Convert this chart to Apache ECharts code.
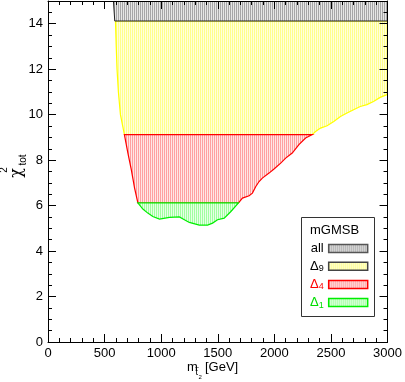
<!DOCTYPE html>
<html>
<head>
<meta charset="utf-8">
<script src="https://cdn.jsdelivr.net/npm/echarts@6/dist/echarts.min.js"></script>
<style>
  html, body { margin: 0; padding: 0; background: #fff; }
  #chart { width: 405px; height: 382px; }
</style>
</head>
<body>
<div id="chart"></div>
<script>
// region outlines [m_stop (GeV), chi2_tot]
var allRegion = [[578, 15], [3000, 15], [3000, 14.12], [590, 14.12]]
var delta9Region = [
  [596, 14.12], [603, 13], [610, 12], [622, 11], [640, 10], [675, 9.12],
  [2334, 9.12], [2364, 9.26], [2408, 9.41], [2466, 9.51], [2525, 9.70], [2584, 9.92],
  [2642, 10.07], [2700, 10.22], [2759, 10.36], [2818, 10.44], [2876, 10.58],
  [2935, 10.76], [2994, 10.88], [3000, 10.9], [3000, 14.12]
]
var delta4Region = [
  [675, 9.12], [706, 8.31], [736, 7.58], [765, 6.77], [794, 6.12],
  [1683, 6.12], [1718, 6.33], [1777, 6.43], [1806, 6.55], [1836, 6.84], [1865, 7.06],
  [1894, 7.21], [1953, 7.43], [1997, 7.61], [2056, 7.87], [2100, 8.09], [2158, 8.31],
  [2217, 8.68], [2276, 8.97], [2334, 9.12]
]
var delta1Region = [
  [794, 6.12], [838, 5.85], [882, 5.67], [926, 5.52], [985, 5.41], [1073, 5.48],
  [1161, 5.50], [1205, 5.38], [1249, 5.26], [1337, 5.14], [1410, 5.14], [1454, 5.23],
  [1498, 5.38], [1557, 5.45], [1616, 5.74], [1683, 6.12]
]

var xTicks = [0, 500, 1000, 1500, 2000, 2500, 3000]
var yTicks = [0, 2, 4, 6, 8, 10, 12, 14]

// fine vertical hatch pattern like the original plot
function hatch(line, bg) {
  var c = document.createElement('canvas')
  c.width = 2
  c.height = 2
  var ctx = c.getContext('2d')
  ctx.fillStyle = bg
  ctx.fillRect(0, 0, 2, 2)
  ctx.fillStyle = line
  ctx.fillRect(0, 0, 1, 2)
  return { image: c, repeat: 'repeat' }
}

var grayFill = hatch('#a6a6a6', '#e6e6e6')
var yellowFill = hatch('#ffff8c', '#ffffdc')
var redFill = hatch('#ffa0a0', '#ffe6e6')
var greenFill = hatch('#a0ffa0', '#e6ffe6')

function regionSeries(name, pts, fill, stroke, lw, z) {
  return {
    name: name,
    type: 'custom',
    z: z,
    clip: true,
    data: pts,
    renderItem: function(params, api) {
      if (params.dataIndex !== 0) return null
      var points = pts.map(function(p) { return api.coord(p) })
      return {
        type: 'polygon',
        shape: { points: points },
        style: { fill: fill, stroke: stroke, lineWidth: lw }
      }
    }
  }
}

var font = 'Liberation Sans'

function xAxisOpt(pos, showLabel) {
  return {
    type: 'value',
    position: pos,
    min: 0,
    max: 3000,
    interval: 500,
    z: 5,
    axisLine: { show: true, onZero: false, lineStyle: { color: '#000', width: 1 } },
    axisTick: { show: true, inside: true, length: 8, lineStyle: { color: '#000' } },
    minorTick: { show: true, splitNumber: 5, length: 4, lineStyle: { color: '#000' } },
    splitLine: { show: false },
    axisLabel: {
      show: showLabel, margin: 5, color: '#000', fontFamily: font, fontSize: 13,
      formatter: function(v) { return xTicks.indexOf(v) >= 0 ? String(v) : '' }
    }
  }
}

function yAxisOpt(pos, showLabel) {
  return {
    type: 'value',
    position: pos,
    min: 0,
    max: 15,
    interval: 2,
    z: 5,
    axisLine: { show: true, onZero: false, lineStyle: { color: '#000', width: 1 } },
    axisTick: { show: true, inside: true, length: 8, lineStyle: { color: '#000' } },
    minorTick: { show: true, splitNumber: 4, length: 4, lineStyle: { color: '#000' } },
    splitLine: { show: false },
    axisLabel: {
      show: showLabel, margin: 5, color: '#000', fontFamily: font, fontSize: 13,
      formatter: function(v) { return yTicks.indexOf(v) >= 0 ? String(v) : '' }
    }
  }
}

var chart = echarts.init(document.getElementById('chart'), null, { renderer: 'canvas' })

var option = {
  animation: false,
  backgroundColor: '#fff',
  grid: { left: 48, right: 16, top: 1, bottom: 40 },
  xAxis: [xAxisOpt('bottom', true), xAxisOpt('top', false)],
  yAxis: [yAxisOpt('left', true), yAxisOpt('right', false)],
  legend: {
    orient: 'vertical',
    left: 310,
    top: 242,
    align: 'right',
    padding: 0,
    itemWidth: 39,
    itemHeight: 8,
    itemGap: 4.7,
    z: 12,
    selectedMode: false,
    textStyle: {
      fontFamily: font,
      fontSize: 13,
      color: '#000',
      rich: {
        w: { fontFamily: font, fontSize: 13, width: 13, lineHeight: 14 },
        d: { fontFamily: font, fontSize: 13, width: 8, lineHeight: 14 },
        s: { fontFamily: font, fontSize: 9, width: 5, lineHeight: 14, verticalAlign: 'bottom' }
      }
    },
    formatter: function(name) {
      if (name === 'all') return '{w|all}'
      return '{d|Δ}{s|' + name.slice(1) + '}'
    },
    data: [
      { name: 'all', icon: 'rect', itemStyle: { color: grayFill, borderColor: '#555', borderWidth: 1.5 } },
      { name: 'Δ9', icon: 'rect', itemStyle: { color: yellowFill, borderColor: '#444', borderWidth: 1.5 } },
      { name: 'Δ4', icon: 'rect', itemStyle: { color: redFill, borderColor: '#ff0000', borderWidth: 1.5 }, textStyle: { color: '#ff0000' } },
      { name: 'Δ1', icon: 'rect', itemStyle: { color: greenFill, borderColor: '#00ee00', borderWidth: 1.5 }, textStyle: { color: '#00dd00' } }
    ]
  },
  graphic: [
    // legend frame + title
    { type: 'rect', z: 10, shape: { x: 301.5, y: 217.5, width: 73, height: 99 },
      style: { fill: '#fff', stroke: '#333', lineWidth: 1 } },
    { type: 'text', z: 11, x: 310, y: 230,
      style: { text: 'mGMSB', fill: '#000', font: '13px "Liberation Sans"', textVerticalAlign: 'middle' } },
    // x axis title  m_{t~2} [GeV]
    { type: 'text', x: 187, y: 367,
      style: { text: 'm', fill: '#000', font: '13px "Liberation Sans"', textVerticalAlign: 'middle' } },
    { type: 'text', x: 195.5, y: 373,
      style: { text: 't', fill: '#000', font: '9px "Liberation Sans"', textVerticalAlign: 'middle' } },
    { type: 'text', x: 195, y: 368.5,
      style: { text: '~', fill: '#000', font: '7px "Liberation Sans"', textVerticalAlign: 'middle' } },
    { type: 'text', x: 198.6, y: 377.5,
      style: { text: '2', fill: '#000', font: '6px "Liberation Sans"', textVerticalAlign: 'middle' } },
    { type: 'text', x: 205, y: 367,
      style: { text: '[GeV]', fill: '#000', font: '13px "Liberation Sans"', textVerticalAlign: 'middle' } },
    // y axis title  chi^2_tot
    {
      type: 'group', x: 16.5, y: 173, rotation: Math.PI / 2,
      children: [
        { type: 'text', x: 0, y: 0,
          style: { text: 'χ', fill: '#000', font: '16px "DejaVu Serif"', textAlign: 'center', textVerticalAlign: 'middle' } },
        { type: 'text', x: 3, y: -12,
          style: { text: '2', fill: '#000', font: '10px "Liberation Sans"', textAlign: 'center', textVerticalAlign: 'middle' } },
        { type: 'text', x: 13, y: 6.5,
          style: { text: 'tot', fill: '#000', font: '10px "Liberation Sans"', textAlign: 'center', textVerticalAlign: 'middle' } }
      ]
    }
  ],
  series: [
    regionSeries('Δ9', delta9Region, yellowFill, '#ffff00', 1.2, 2),
    regionSeries('all', allRegion, grayFill, '#222', 1, 3),
    regionSeries('Δ4', delta4Region, redFill, '#ff0000', 1.2, 4),
    regionSeries('Δ1', delta1Region, greenFill, '#00ee00', 1.2, 5)
  ]
}

chart.setOption(option)
</script>
</body>
</html>
